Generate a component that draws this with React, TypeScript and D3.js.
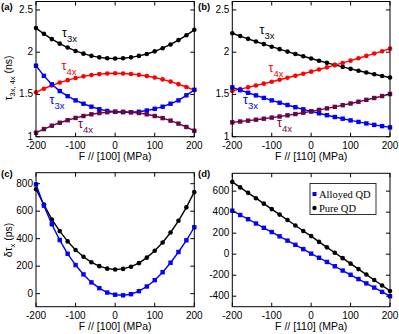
import React from 'react';
import * as d3 from 'd3';

// Stress values (MPa)
const stress = [-200, -180, -160, -140, -120, -100, -80, -60, -40, -20, 0, 20, 40, 60, 80, 100, 120, 140, 160, 180, 200];

// Panel (a): F // [100], lifetimes (ns)
const a_tau3x_pure = [2.285, 2.217, 2.155, 2.101, 2.055, 2.015, 1.983, 1.957, 1.939, 1.929, 1.925, 1.928, 1.939, 1.956, 1.979, 2.010, 2.047, 2.092, 2.143, 2.200, 2.265];
const a_tau4x_pure = [1.525, 1.568, 1.606, 1.640, 1.669, 1.694, 1.714, 1.730, 1.741, 1.748, 1.750, 1.748, 1.742, 1.732, 1.718, 1.700, 1.678, 1.652, 1.622, 1.588, 1.550];
const a_tau3x_alloy = [1.84, 1.72, 1.62, 1.54, 1.48, 1.43, 1.39, 1.355, 1.325, 1.305, 1.295, 1.29, 1.29, 1.295, 1.31, 1.33, 1.355, 1.39, 1.43, 1.49, 1.555];
const a_tau4x_alloy = [1.047, 1.09, 1.13, 1.165, 1.195, 1.222, 1.245, 1.265, 1.28, 1.29, 1.295, 1.295, 1.29, 1.28, 1.265, 1.245, 1.22, 1.19, 1.155, 1.115, 1.07];

// Panel (b): F // [110], lifetimes (ns)
const b_tau3x_pure = [2.224, 2.191, 2.158, 2.127, 2.096, 2.065, 2.036, 2.007, 1.979, 1.952, 1.925, 1.899, 1.874, 1.850, 1.826, 1.803, 1.781, 1.760, 1.739, 1.719, 1.700];
const b_tau4x_pure = [1.542, 1.563, 1.584, 1.606, 1.628, 1.650, 1.674, 1.697, 1.721, 1.745, 1.770, 1.795, 1.821, 1.847, 1.873, 1.900, 1.928, 1.956, 1.984, 2.012, 2.042];
const b_tau3x_alloy = [1.584, 1.551, 1.520, 1.489, 1.459, 1.430, 1.402, 1.375, 1.349, 1.324, 1.300, 1.277, 1.254, 1.233, 1.213, 1.193, 1.175, 1.157, 1.140, 1.125, 1.110];
const b_tau4x_alloy = [1.170, 1.180, 1.190, 1.201, 1.213, 1.226, 1.239, 1.253, 1.268, 1.284, 1.300, 1.317, 1.335, 1.353, 1.373, 1.393, 1.414, 1.436, 1.458, 1.481, 1.505];

// Panel (c): F // [100], splitting (ps)
const c_alloyed = [795, 640, 505, 390, 290, 208, 140, 82, 40, 8, -8, -12, -4, 18, 52, 98, 156, 225, 303, 388, 483];
const c_pure = [760, 648, 540, 455, 380, 318, 268, 228, 200, 182, 176, 180, 196, 222, 262, 312, 372, 445, 530, 628, 740];

// Panel (d): F // [110], splitting (ps)
const d_alloyed = [414, 373, 333, 292, 251, 211, 170, 129, 89, 48, 5, -34, -74, -115, -156, -196, -237, -278, -318, -359, -400];
const d_pure = [688, 636, 584, 533, 481, 429, 377, 325, 273, 221, 172, 117, 65, 14, -38, -90, -142, -194, -246, -298, -350];

const stressTicks = [-200, -100, 0, 100, 200];
const tauTicks = [1, 1.5, 2, 2.5];
const cTicks = [0, 200, 400, 600, 800];
const dTicks = [-400, -200, 0, 200, 400, 600];
const legendLabels = ['Alloyed QD', 'Pure QD'];

const BLACK = '#000000';
const RED = '#ff0000';
const BLUE = '#0000ff';
const MAROON = '#670748';
const SANS = '"Liberation Sans", Arial, sans-serif';
const SERIF = '"Liberation Serif", "Times New Roman", serif';

type Series = { values: number[]; color: string; marker: 'circle' | 'square' };

function Panel(props: {
  box: [number, number, number, number];
  yDomain: [number, number];
  yTicks: number[];
  yFormat: (v: number) => string;
  series: Series[];
  xTitle: string;
  children?: React.ReactNode;
}) {
  const [x0, x1, y0, y1] = props.box;
  const x = d3.scaleLinear().domain([-200, 200]).range([x0, x1]);
  const y = d3.scaleLinear().domain(props.yDomain).range([y1, y0]);
  const line = d3.line<number>().x((_, i) => x(stress[i])).y((v) => y(v));
  const tl = 4;
  return (
    <g>
      {props.series.map((s, si) => (
        <g key={si}>
          <path d={line(s.values) || ''} fill="none" stroke={s.color} strokeWidth={1.4} />
          {s.values.map((v, i) =>
            s.marker === 'circle' ? (
              <circle key={i} cx={x(stress[i])} cy={y(v)} r={2.3} fill={s.color} />
            ) : (
              <rect key={i} x={x(stress[i]) - 2.2} y={y(v) - 2.2} width={4.4} height={4.4} fill={s.color} />
            )
          )}
        </g>
      ))}
      <rect x={x0} y={y0} width={x1 - x0} height={y1 - y0} fill="none" stroke="#000" strokeWidth={1} />
      {stressTicks.map((t) => (
        <g key={'x' + t}>
          <line x1={x(t)} x2={x(t)} y1={y1} y2={y1 - tl} stroke="#000" />
          <line x1={x(t)} x2={x(t)} y1={y0} y2={y0 + tl} stroke="#000" />
          <text x={x(t)} y={y1 + 12} textAnchor="middle" fontFamily={SANS} fontSize={10}>
            {t < 0 ? '-' + Math.abs(t) : String(t)}
          </text>
        </g>
      ))}
      {props.yTicks.map((t) => (
        <g key={'y' + t}>
          <line x1={x0} x2={x0 + tl} y1={y(t)} y2={y(t)} stroke="#000" />
          <line x1={x1} x2={x1 - tl} y1={y(t)} y2={y(t)} stroke="#000" />
          <text x={x0 - 3} y={y(t) + 3} textAnchor="end" fontFamily={SANS} fontSize={10}>
            {props.yFormat(t)}
          </text>
        </g>
      ))}
      <text x={(x0 + x1) / 2} y={y1 + 23.5} textAnchor="middle" fontFamily={SANS} fontSize={10.5}>
        {props.xTitle}
      </text>
      {props.children}
    </g>
  );
}

function Tau(props: { x: number; y: number; sub: string; color: string }) {
  return (
    <text x={props.x} y={props.y} fill={props.color} fontFamily={SANS} fontSize={12.5}>
      τ
      <tspan dy={5} fontSize={9.5}>{props.sub}</tspan>
    </text>
  );
}

export default function App() {
  const tauFmt = (v: number) => String(v);
  const psFmt = (v: number) => (v < 0 ? '-' + Math.abs(v) : String(v));
  return (
    <svg width={399} height={334} style={{ position: 'absolute', left: 0, top: 0, background: '#fff' }}>
      <Panel
        box={[36, 194.3, 1.5, 136.7]}
        yDomain={[1, 2.6]}
        yTicks={tauTicks}
        yFormat={tauFmt}
        xTitle="F // [100] (MPa)"
        series={[
          { values: a_tau3x_pure, color: BLACK, marker: 'circle' },
          { values: a_tau4x_pure, color: RED, marker: 'circle' },
          { values: a_tau3x_alloy, color: BLUE, marker: 'square' },
          { values: a_tau4x_alloy, color: MAROON, marker: 'square' },
        ]}
      >
        <Tau x={62} y={37} sub="3x" color={BLACK} />
        <Tau x={61.5} y={70} sub="4x" color={RED} />
        <Tau x={49.5} y={104} sub="3x" color={BLUE} />
        <Tau x={78} y={128} sub="4x" color={MAROON} />
      </Panel>
      <Panel
        box={[232.3, 390, 1.5, 136.7]}
        yDomain={[1, 2.6]}
        yTicks={tauTicks}
        yFormat={tauFmt}
        xTitle="F // [110] (MPa)"
        series={[
          { values: b_tau3x_pure, color: BLACK, marker: 'circle' },
          { values: b_tau4x_pure, color: RED, marker: 'circle' },
          { values: b_tau3x_alloy, color: BLUE, marker: 'square' },
          { values: b_tau4x_alloy, color: MAROON, marker: 'square' },
        ]}
      >
        <Tau x={259.5} y={34} sub="3x" color={BLACK} />
        <Tau x={268.5} y={72} sub="4x" color={RED} />
        <Tau x={243} y={104} sub="3x" color={BLUE} />
        <Tau x={277} y={127} sub="4x" color={MAROON} />
      </Panel>
      <Panel
        box={[36, 194.3, 172.7, 306.7]}
        yDomain={[-95, 880]}
        yTicks={cTicks}
        yFormat={psFmt}
        xTitle="F // [100] (MPa)"
        series={[
          { values: c_pure, color: BLACK, marker: 'circle' },
          { values: c_alloyed, color: BLUE, marker: 'square' },
        ]}
      />
      <Panel
        box={[232.3, 390, 173.3, 306.7]}
        yDomain={[-500, 770]}
        yTicks={dTicks}
        yFormat={psFmt}
        xTitle="F // [110] (MPa)"
        series={[
          { values: d_pure, color: BLACK, marker: 'circle' },
          { values: d_alloyed, color: BLUE, marker: 'square' },
        ]}
      >
        <g>
          <rect x={310} y={183.5} width={66} height={31} fill="#fff" stroke="#000" strokeWidth={0.8} />
          <rect x={312.5} y={192} width={4} height={4} fill={BLUE} />
          <circle cx={314.5} cy={208} r={2.2} fill={BLACK} />
          <text x={319} y={197.5} fontFamily={SERIF} fontSize={10.5}>{legendLabels[0]}</text>
          <text x={319} y={211.5} fontFamily={SERIF} fontSize={10.5}>{legendLabels[1]}</text>
        </g>
      </Panel>
      {/* panel letters */}
      <text x={1} y={10} fontFamily={SANS} fontSize={9.5} fontWeight="bold">(a)</text>
      <text x={198} y={10} fontFamily={SANS} fontSize={9.5} fontWeight="bold">(b)</text>
      <text x={1} y={177} fontFamily={SANS} fontSize={9.5} fontWeight="bold">(c)</text>
      <text x={198} y={177} fontFamily={SANS} fontSize={9.5} fontWeight="bold">(d)</text>
      {/* y titles */}
      <text transform="translate(12,78) rotate(-90)" textAnchor="middle" fontFamily={SANS} fontSize={10.5}>
        τ<tspan dy={3} fontSize={7.5}>3x, 4x</tspan><tspan dy={-3}> (ns)</tspan>
      </text>
      <text transform="translate(12,240) rotate(-90)" textAnchor="middle" fontFamily={SANS} fontSize={10.5}>
        δτ<tspan dy={3} fontSize={7.5}>x</tspan><tspan dy={-3}> (ps)</tspan>
      </text>
    </svg>
  );
}
